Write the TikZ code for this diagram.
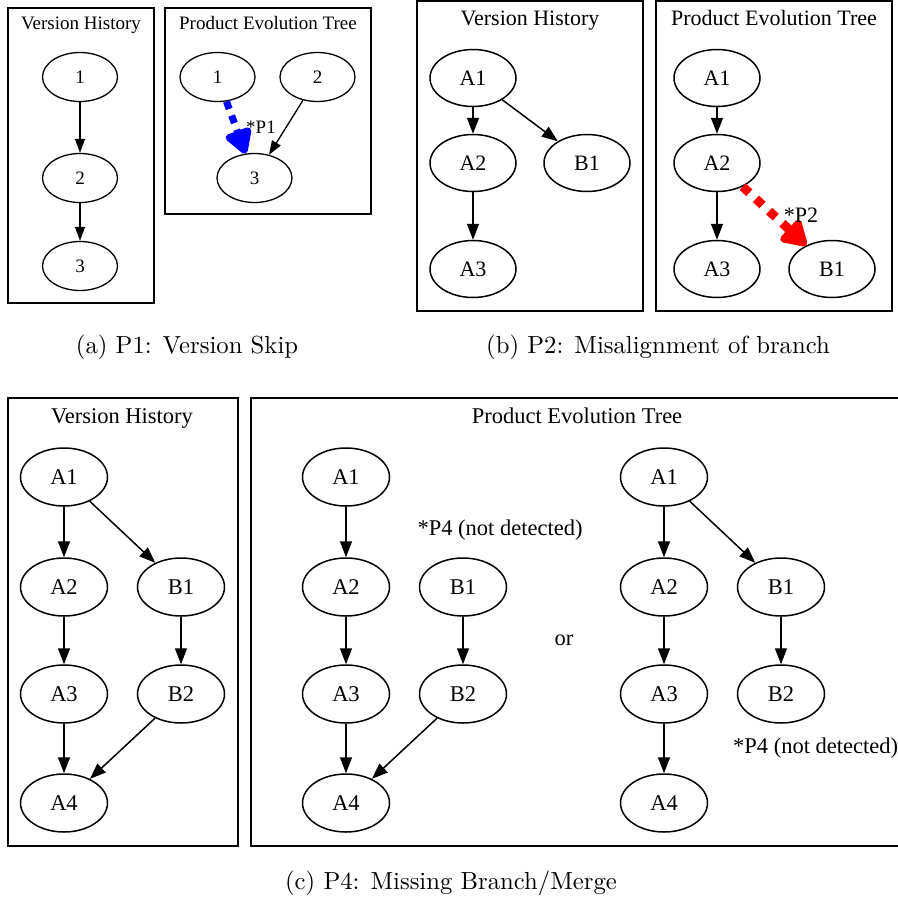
\documentclass[tikz,border=0pt]{standalone}
\usepackage{fontspec}
\newfontfamily\tms{Liberation Serif}
\newfontfamily\capfont{lmroman10-regular}[Extension=.otf]
\usetikzlibrary{shapes.geometric,arrows.meta}
\begin{document}
\begin{tikzpicture}[x=1pt,y=-1pt,
  nA/.style={ellipse,draw,line width=1.3pt,minimum width=75pt,minimum height=49pt,inner sep=0pt,font=\tms\fontsize{19}{19}\selectfont},
  nB/.style={ellipse,draw,line width=1.5pt,minimum width=86pt,minimum height=57pt,inner sep=0pt,font=\tms\fontsize{22}{22}\selectfont},
  nC/.style={ellipse,draw,line width=1.5pt,minimum width=87pt,minimum height=58pt,inner sep=0pt,font=\tms\fontsize{22.5}{22.5}\selectfont},
  tA/.style={inner sep=0pt,font=\tms\fontsize{19}{19}\selectfont},
  tB/.style={inner sep=0pt,font=\tms\fontsize{22}{22}\selectfont},
  tC/.style={inner sep=0pt,font=\tms\fontsize{22.5}{22.5}\selectfont},
  boxA/.style={draw,line width=1.3pt},
  boxB/.style={draw,line width=1.5pt},
  eA/.style={-{Triangle[length=14pt,width=10pt]},line width=1.3pt},
  eB/.style={-{Triangle[length=16pt,width=12pt]},line width=1.5pt},
  blueedge/.style={-{Triangle[length=28pt,width=30pt,round]},line width=7pt,blue,dash pattern=on 8pt off 7pt},
  rededge/.style={-{Triangle[length=28pt,width=32pt,round]},line width=9pt,red,dash pattern=on 9pt off 9pt},
  capt/.style={inner sep=0pt,font=\capfont\fontsize{24.7}{30}\selectfont}
]
\useasboundingbox (0,0) rectangle (898,898);
\fill[white] (0,0) rectangle (898,898);

% ---------- panel (a)
\draw[boxA] (8,8) rectangle (154,303);
\node[tA,anchor=base] (aVHt) at (81,29.5) {Version History};
\node[nA] (a1) at (80,77) {1};
\node[nA] (a2) at (80,178) {2};
\node[nA] (a3) at (80,266) {3};
\draw[eA] (a1) -- (a2);
\draw[eA] (a2) -- (a3);

\draw[boxA] (165,8) rectangle (371,214);
\node[tA,anchor=base] (aPETt) at (268,29.5) {Product Evolution Tree};
\node[nA] (p1) at (217.5,77) {1};
\node[nA] (p2) at (317.5,77) {2};
\node[nA] (p3) at (254.5,178) {3};
\draw[blueedge] (p1) -- (p3);
\draw[eA] (p2) -- (p3);
\node[tA] (lp1) at (261,127) {*P1};

% ---------- panel (b)
\draw[boxB] (417,1) rectangle (643,311);
\node[tB,anchor=base] (bVHt) at (530,25) {Version History};
\node[nB] (bA1) at (473,78) {A1};
\node[nB] (bA2) at (473,163) {A2};
\node[nB] (bA3) at (473,269) {A3};
\node[nB] (bB1) at (587,163) {B1};
\draw[eB] (bA1) -- (bA2);
\draw[eB] (bA2) -- (bA3);
\draw[eB] (bA1) -- (bB1);

\draw[boxB] (656,1) rectangle (892,311);
\node[tB,anchor=base] (bPETt) at (774,25) {Product Evolution Tree};
\node[nB] (qA1) at (717,78) {A1};
\node[nB] (qA2) at (717,163) {A2};
\node[nB] (qA3) at (717,269) {A3};
\node[nB] (qB1) at (832,269) {B1};
\draw[eB] (qA1) -- (qA2);
\draw[eB] (qA2) -- (qA3);
\draw[rededge] (qA2) -- (qB1);
\node[tB] (lp2) at (801,215) {*P2};

% ---------- panel (c)
\draw[boxB] (8,398) rectangle (238,846);
\node[tC,anchor=base] (cVHt) at (122,423) {Version History};
\node[nC] (cA1) at (64,477) {A1};
\node[nC] (cA2) at (64,587) {A2};
\node[nC] (cA3) at (64,694) {A3};
\node[nC] (cA4) at (64,803) {A4};
\node[nC] (cB1) at (181,587) {B1};
\node[nC] (cB2) at (181,694) {B2};
\draw[eB] (cA1) -- (cA2);
\draw[eB] (cA2) -- (cA3);
\draw[eB] (cA3) -- (cA4);
\draw[eB] (cA1) -- (cB1);
\draw[eB] (cB1) -- (cB2);
\draw[eB] (cB2) -- (cA4);

\draw[boxB] (251,398) rectangle (912,846);
\node[tC,anchor=base] (cPETt) at (577,423) {Product Evolution Tree};
\node[nC] (lA1) at (346,477) {A1};
\node[nC] (lA2) at (346,587) {A2};
\node[nC] (lA3) at (346,694) {A3};
\node[nC] (lA4) at (346,803) {A4};
\node[nC] (lB1) at (463,587) {B1};
\node[nC] (lB2) at (463,694) {B2};
\draw[eB] (lA1) -- (lA2);
\draw[eB] (lA2) -- (lA3);
\draw[eB] (lA3) -- (lA4);
\draw[eB] (lB1) -- (lB2);
\draw[eB] (lB2) -- (lA4);
\node[tC] (lp4a) at (500,530) {*P4 (not detected)};
\node[tC] (orr) at (564,640) {or};

\node[nC] (rA1) at (664,477) {A1};
\node[nC] (rA2) at (664,587) {A2};
\node[nC] (rA3) at (664,694) {A3};
\node[nC] (rA4) at (664,803) {A4};
\node[nC] (rB1) at (781,587) {B1};
\node[nC] (rB2) at (781,694) {B2};
\draw[eB] (rA1) -- (rA2);
\draw[eB] (rA2) -- (rA3);
\draw[eB] (rA3) -- (rA4);
\draw[eB] (rA1) -- (rB1);
\draw[eB] (rB1) -- (rB2);
\node[tC,anchor=west] (lp4b) at (733,748) {*P4 (not detected)};

% ---------- captions
\node[capt] (capa) at (187,347) {(a) P1: Version Skip};
\node[capt] (capb) at (658,347) {(b) P2: Misalignment of branch};
\node[capt] (capc) at (451,883) {(c) P4: Missing Branch/Merge};
\end{tikzpicture}
\end{document}
